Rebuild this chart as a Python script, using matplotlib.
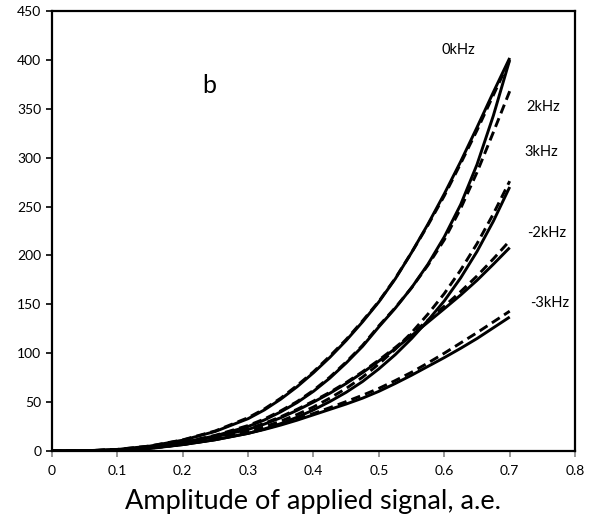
import matplotlib
matplotlib.use("Agg")
import matplotlib.pyplot as plt

plt.rcParams['font.family'] = ['Lato', 'DejaVu Sans']

x = [0, 0.05, 0.1, 0.15, 0.2, 0.25, 0.3, 0.325, 0.35, 0.375, 0.4, 0.425, 0.45, 0.475,
     0.5, 0.525, 0.55, 0.575, 0.6, 0.625, 0.65, 0.675, 0.7]

khz0_solid = [0, 0.2, 1.5, 5, 11, 20, 33, 42, 53, 65.7, 80, 95.7, 113, 132,
              152.5, 176, 203, 232, 263, 296, 331, 367, 402]
khz0_dashed = [0, 0.2, 1.6, 5.1, 11.3, 20.5, 34, 43, 54, 67, 81, 97, 114, 133,
               153, 176.5, 203, 231, 261, 294, 328, 364, 400]
khz2_solid = [0, 0.1, 1.1, 3.8, 8.5, 15.5, 25, 31.7, 40, 49.5, 61, 74.5, 90, 107,
              127, 146, 167, 191, 219, 252, 293, 343, 400]
khz2_dashed = [0, 0.1, 1.1, 3.9, 8.7, 16, 26, 32.7, 41, 50.5, 62, 75.5, 91, 108,
               128, 146.5, 167, 190, 216, 248, 285, 326, 368]
khz3_solid = [0, 0.05, 0.6, 2.5, 6.5, 11.5, 18, 22.5, 28, 34.5, 42, 50.5, 60, 71,
              84, 98.5, 115, 133.5, 153.5, 177, 204, 235, 270]
khz3_dashed = [0, 0.05, 0.7, 2.8, 7, 12.5, 20, 24.7, 30.5, 37.3, 45, 54, 64, 75.5,
               89, 104, 121, 140, 161, 185, 212, 242.5, 276]
khzm2_solid = [0, 0.1, 1.2, 4, 8.5, 14.5, 22, 27.5, 34, 41.6, 50, 59, 69, 80.1,
               92, 104.7, 118, 131.7, 145.5, 159.5, 174.5, 191, 208]
khzm2_dashed = [0, 0.1, 1.2, 4, 8.6, 14.8, 22.5, 28.3, 35, 42.6, 51, 60, 70, 81,
                93, 105.8, 119.5, 133.7, 148, 163, 179, 196.5, 215]
khzm3_solid = [0, 0.1, 0.9, 3, 6.5, 11.5, 18, 22, 26.5, 31.5, 37, 42.5, 48, 54,
               61, 69, 77.5, 86.5, 95.5, 105, 115, 126, 137]
khzm3_dashed = [0, 0.1, 0.9, 3, 6.6, 11.8, 18.5, 22.5, 27.3, 32.5, 38.3, 44.3, 50.5, 57,
                64, 72, 80.5, 90, 100, 110.5, 121, 132, 143]

labels = ["0kHz", "2kHz", "3kHz", "-2kHz", "-3kHz"]
label_pos = [(0.622, 410), (0.751, 352), (0.748, 306), (0.756, 223), (0.761, 151)]

x_ticks = [0, 0.1, 0.2, 0.3, 0.4, 0.5, 0.6, 0.7, 0.8]
y_ticks = [0, 50, 100, 150, 200, 250, 300, 350, 400, 450]

fig = plt.figure(figsize=(5.92, 5.25), dpi=100)
ax = fig.add_axes([0.0875, 0.141, 0.884, 0.838])

solids = [khz0_solid, khz2_solid, khz3_solid, khzm2_solid, khzm3_solid]
dashes = [khz0_dashed, khz2_dashed, khz3_dashed, khzm2_dashed, khzm3_dashed]
for s, d in zip(solids, dashes):
    ax.plot(x, s, color='black', lw=2.1, solid_capstyle='butt', solid_joinstyle='round')
    ax.plot(x, d, color='black', lw=2.1, linestyle=(0, (3.2, 1.8)), dash_capstyle='butt')

for lab, (lx, ly) in zip(labels, label_pos):
    ax.text(lx, ly, lab, ha='center', va='center', fontsize=10.5)

ax.text(0.24, 374, "b", ha='center', va='center', fontsize=18)

ax.set_xlim(0, 0.8)
ax.set_ylim(0, 450)
ax.set_xticks(x_ticks)
ax.set_xticklabels([f"{v:g}" for v in x_ticks])
ax.set_yticks(y_ticks)
ax.set_yticklabels([str(v) for v in y_ticks])
ax.tick_params(axis='both', labelsize=10, direction='out', length=4, width=1.2, colors='black')
ax.tick_params(axis='x', pad=6, color='#888888')
for sp in ax.spines.values():
    sp.set_linewidth(1.6)
    sp.set_color('black')
ax.set_xlabel("Amplitude of applied signal, a.e.", fontsize=19.5, labelpad=9)

fig.savefig("out.png", dpi=100)
